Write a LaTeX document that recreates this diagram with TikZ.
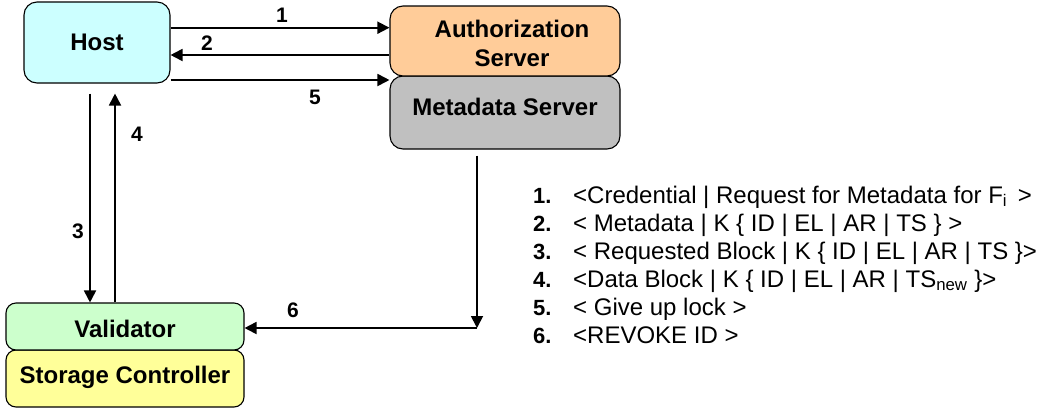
\documentclass[tikz,border=0pt]{standalone}
\usepackage{fontspec}
\setmainfont{Liberation Sans}
\usetikzlibrary{arrows.meta,calc}
\definecolor{hostfill}{HTML}{CCFFFF}
\definecolor{authfill}{HTML}{FFCC99}
\definecolor{metafill}{HTML}{C0C0C0}
\definecolor{validfill}{HTML}{CCFFCC}
\definecolor{storfill}{HTML}{FFFF99}
\tikzset{
  box/.style={draw=black, line width=1.1pt, rounded corners=13pt, inner sep=0pt,
    font=\fontsize{24}{29}\selectfont\bfseries, align=center},
  arr/.style={line width=1.8pt, -{Triangle[length=12pt,width=12pt]}},
  lbl/.style={font=\fontsize{21}{23}\selectfont\bfseries, inner sep=0pt},
  num/.style={anchor=base west, inner sep=0pt, font=\fontsize{22}{24}\selectfont\bfseries},
  msg/.style={anchor=base west, inner sep=0pt, font=\fontsize{24}{26}\selectfont}
}
\begin{document}
\begin{tikzpicture}[x=1pt,y=-1pt]
\useasboundingbox (0,0) rectangle (1049,408);

% component boxes
\node[box, fill=hostfill, minimum width=146pt, minimum height=81pt] (host) at (97,42.5) {Host};
\node[box, fill=metafill, minimum width=230pt, minimum height=73pt] (meta) at (505,112.5) {};
\node[box, fill=authfill, minimum width=230pt, minimum height=70pt] (auth) at (505,41) {};
\node[box, fill=storfill, minimum width=238pt, minimum height=57pt, rounded corners=10pt] (stor) at (125,378.5) {};
\node[box, fill=validfill, minimum width=238pt, minimum height=47pt, rounded corners=10pt] (valid) at (125,326.5) {};

\node[box, draw=none, fill=none] (authtxt) at (512,43) {Authorization\\Server};
\node[box, draw=none, fill=none] (metatxt) at (505,107) {Metadata Server};
\node[box, draw=none, fill=none] (validtxt) at (125,329) {Validator};
\node[box, draw=none, fill=none] (stortxt) at (125,377) {Storage Controller};

% message arrows
\draw[arr] (host.east |- 0,27.7) -- (auth.west |- 0,27.7);
\draw[arr] (auth.west |- 0,55) -- (host.east |- 0,55);
\draw[arr] (host.east |- 0,80) -- (auth.west |- 0,80);
\draw[arr] (90,0 |- host.south) ++(0,10) -- (90,0 |- valid.north);
\coordinate (h4) at ($(host.south)+(18,10)$);
\draw[arr] (115,0 |- valid.north) -- (115,0 |- h4);
\coordinate (turn) at (477,328);
\draw[arr] ($(meta.south -| turn)+(0,6)$) -- (turn);
\draw[arr] (turn) -- (valid.east |- turn);

% arrow numbers
\node[lbl] (l1) at (282,15) {1};
\node[lbl] (l2) at (207,43) {2};
\node[lbl] (l5) at (315,97) {5};
\node[lbl] (l3) at (78,231) {3};
\node[lbl] (l4) at (137,134) {4};
\node[lbl] (l6) at (293,310) {6};

% message legend
\node[num] (n1) at (533,203) {1.};
\node[msg] (m1) at (573,203) {<Credential | Request for Metadata for F\textsubscript{i}\, >};
\node[num] (n2) at (533,231) {2.};
\node[msg] (m2) at (573,231) {< Metadata | K \{ ID | EL | AR | TS \} >};
\node[num] (n3) at (533,259) {3.};
\node[msg] (m3) at (573,259) {< Requested Block | K \{ ID | EL | AR | TS \}>};
\node[num] (n4) at (533,287) {4.};
\node[msg] (m4) at (573,287) {<Data Block | K \{ ID | EL | AR | TS\textsubscript{new} \}>};
\node[num] (n5) at (533,315) {5.};
\node[msg] (m5) at (573,315) {< Give up lock >};
\node[num] (n6) at (533,343) {6.};
\node[msg] (m6) at (573,343) {<REVOKE ID >};
\end{tikzpicture}
\end{document}
